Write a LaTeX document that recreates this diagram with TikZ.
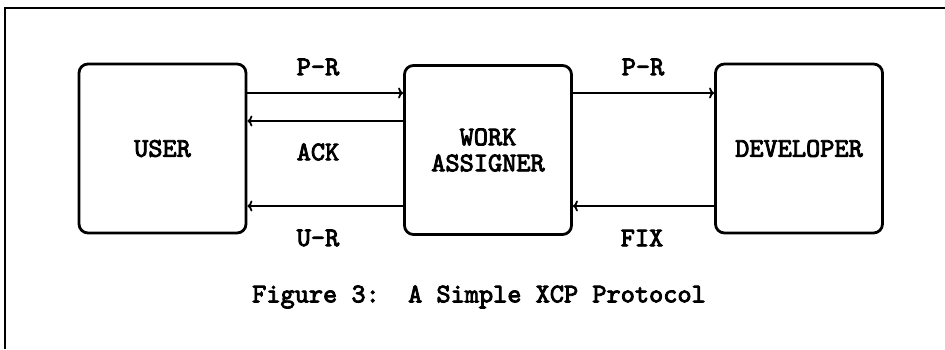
\documentclass[tikz,border=0pt]{standalone}
\usepackage{fontspec}
\newfontfamily\ttheavy{lmmono10-regular.otf}[FakeBold=3.2]
\usetikzlibrary{arrows.meta}
\begin{document}
\begin{tikzpicture}[x=1pt,y=-1pt,
  box/.style={draw,line width=2.8pt,rounded corners=9pt,minimum width=167pt,minimum height=169pt,inner sep=0pt,align=center},
  lbl/.style={font=\ttheavy\fontsize{27}{29}\selectfont,inner sep=0pt},
  arr/.style={line width=2.6pt,-{To[length=5pt,width=11pt,line width=1.8pt]}},
  frame/.style={line width=2.8pt}]
\useasboundingbox (0,0) rectangle (945,349);
\draw[frame] (5,349) -- (5,8) -- (945,8);
\node[box,lbl] (user) at (162.5,148.5) {USER};
\node[box,lbl] (work) at (488,150) {WORK\\[-3pt]ASSIGNER};
\node[box,lbl] (dev) at (799,148.5) {DEVELOPER};
\coordinate (yA) at (0,93);
\coordinate (yB) at (0,121);
\coordinate (yC) at (0,206);
\draw[arr] (user.east |- yA) -- (work.west |- yA);
\draw[arr] (work.west |- yB) -- (user.east |- yB);
\draw[arr] (work.west |- yC) -- (user.east |- yC);
\draw[arr] (work.east |- yA) -- (dev.west |- yA);
\draw[arr] (dev.west |- yC) -- (work.east |- yC);
\node[lbl] (lpr1) at (318,67) {P-R};
\node[lbl] (lack) at (318,152) {ACK};
\node[lbl] (lur) at (318,238) {U-R};
\node[lbl] (lpr2) at (643,67) {P-R};
\node[lbl] (lfix) at (642,238) {FIX};
\node[lbl] (cap) at (479,297) {Figure 3:\ \ A Simple XCP Protocol};
\end{tikzpicture}
\end{document}
